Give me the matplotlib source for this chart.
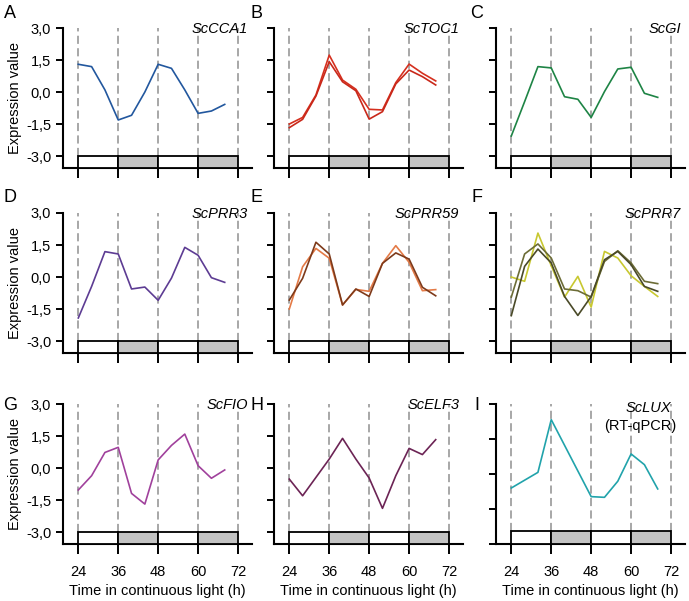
import matplotlib.pyplot as plt
from matplotlib.patches import Rectangle

plt.rcParams['font.family'] = ['Liberation Sans', 'DejaVu Sans']

# sampling times (h)
times = [24, 28, 32, 36, 40, 44, 48, 52, 56, 60, 64, 68]
times_lux = [24, 32, 36, 48, 52, 56, 60, 64, 68]
xticks = [24, 36, 48, 60, 72]
yticks = [3.0, 1.5, 0.0, -1.5, -3.0]
ylabels = ['3,0', '1,5', '0,0', '-1,5', '-3,0']

cca1 = [1.30, 1.19, 0.10, -1.31, -1.09, 0.00, 1.30, 1.11, 0.10, -1.00, -0.89, -0.58]
toc1_1 = [-1.50, -1.19, -0.14, 1.73, 0.56, 0.13, -0.81, -0.84, 0.44, 1.31, 0.88, 0.52]
toc1_2 = [-1.67, -1.28, -0.19, 1.42, 0.48, 0.06, -1.27, -0.92, 0.38, 1.03, 0.72, 0.33]
gi = [-2.06, -0.45, 1.19, 1.13, -0.22, -0.34, -1.19, 0.02, 1.08, 1.16, -0.06, -0.25]
prr3 = [-1.92, -0.44, 1.19, 1.08, -0.56, -0.47, -1.09, -0.05, 1.39, 1.02, -0.03, -0.25]
prr59_1 = [-1.08, -0.06, 1.63, 1.08, -1.31, -0.56, -0.91, 0.64, 1.13, 0.84, -0.48, -0.88]
prr59_2 = [-1.50, 0.48, 1.34, 0.88, -1.31, -0.58, -0.67, 0.64, 1.47, 0.69, -0.64, -0.59]
prr7_1 = [0.00, -0.20, 2.06, 0.53, -0.94, 0.03, -1.41, 1.20, 0.89, 0.06, -0.44, -0.91]
prr7_2 = [-0.94, 1.08, 1.55, 0.89, -0.56, -0.64, -0.94, 0.73, 1.23, 0.66, -0.20, -0.31]
prr7_3 = [-1.81, 0.50, 1.31, 0.66, -0.91, -1.80, -0.91, 0.81, 1.20, 0.58, -0.44, -0.67]
fio = [-1.03, -0.36, 0.73, 0.97, -1.19, -1.69, 0.38, 1.06, 1.59, 0.11, -0.48, -0.09]
elf3 = [-0.52, -1.30, -0.44, 0.42, 1.39, 0.42, -0.47, -1.89, -0.36, 0.92, 0.63, 1.33]
lux = [-0.60, 0.07, 2.33, -0.97, -1.00, -0.31, 0.86, 0.40, -0.64]

panels = [
    ('A', 'ScCCA1', times, [(cca1, '#22579e')]),
    ('B', 'ScTOC1', times, [(toc1_1, '#d5301f'), (toc1_2, '#c9281a')]),
    ('C', 'ScGI', times, [(gi, '#1e8445')]),
    ('D', 'ScPRR3', times, [(prr3, '#5d3c93')]),
    ('E', 'ScPRR59', times, [(prr59_2, '#e47a46'), (prr59_1, '#7e3a1a')]),
    ('F', 'ScPRR7', times, [(prr7_1, '#c8c830'), (prr7_2, '#6c6c36'), (prr7_3, '#4a4a28')]),
    ('G', 'ScFIO', times, [(fio, '#a0419c')]),
    ('H', 'ScELF3', times, [(elf3, '#6c2455')]),
    ('I', 'ScLUX', times_lux, [(lux, '#21a3ab')]),
]

W, H = 689.0, 601.0
fig = plt.figure(figsize=(W / 100, H / 100), dpi=100)
lefts = [63, 274, 496]
bottoms = [168, 353, 544]
letter_x = [10, 257, 477]
letter_y = [13, 198, 406]

for i, (letter, gene, t, series) in enumerate(panels):
    row, col = i // 3, i % 3
    ax = fig.add_axes([lefts[col] / W, 1 - bottoms[row] / H, 189 / W, 140 / H])
    if letter == 'I':
        ylo = -3.0
    else:
        ylo = -3.56
    ax.set_xlim(19.4, 76.2)
    ax.set_ylim(ylo, 3.0)
    barh = 0.56
    # dashed lines every 12 h
    for x in xticks:
        ax.plot([x, x], [ylo + barh, 3.0], ls=(0, (4.5, 2.4)), color='#a0a0a0', lw=1.3, clip_on=False, zorder=1)
    # light / dark bar
    for k in range(4):
        fc = 'white' if k % 2 == 0 else '#c3c3c3'
        ax.add_patch(Rectangle((24 + 12 * k, ylo), 12, barh, fc=fc, ec='black', lw=1.3, clip_on=False, zorder=3))
    for vals, c in series:
        ax.plot(t, vals, color=c, lw=1.2, zorder=2)

    for s in ['top', 'right']:
        ax.spines[s].set_visible(False)
    for s in ['left', 'bottom']:
        ax.spines[s].set_linewidth(1.5)
    ax.set_xticks(xticks)
    ax.set_yticks(yticks)
    ax.tick_params(axis='x', length=7, width=1.4, pad=8, labelsize=10.5)
    ax.tick_params(axis='y', length=5, width=1.4, labelsize=10.5)
    if col == 0:
        ax.set_yticklabels(ylabels)
        ax.set_ylabel('Expression value', fontsize=10.5, labelpad=3)
    else:
        ax.set_yticklabels([])
    if row == 2:
        ax.set_xlabel('Time in continuous light (h)', fontsize=10.5, labelpad=4)
    else:
        ax.set_xticklabels([])

    if letter == 'I':
        ax.text(0.926, 0.97, gene, style='italic', fontsize=10.5, ha='right', va='center', transform=ax.transAxes)
        ax.text(0.952, 0.84, '(RT-qPCR)', fontsize=10.5, ha='right', va='center', transform=ax.transAxes)
    else:
        ax.text(0.98, 0.995, gene, style='italic', fontsize=10.5, ha='right', va='center', transform=ax.transAxes)
    fig.text(letter_x[col] / W, 1 - letter_y[row] / H, letter, fontsize=13, ha='center', va='center')

plt.savefig('out.png', dpi=100)
